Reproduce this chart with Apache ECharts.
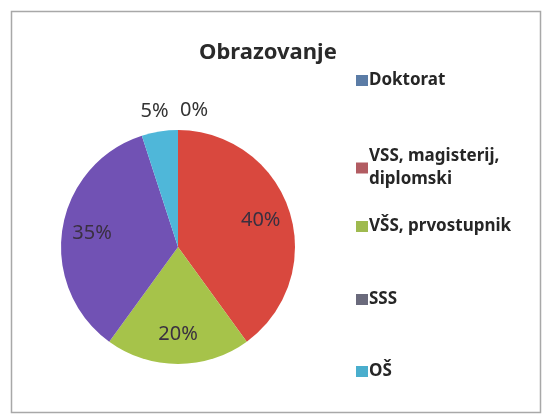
<!DOCTYPE html>
<html lang="hr" style="height: 100%">
<head>
    <meta charset="UTF-8">
    <title>Obrazovanje</title>
    <script type="text/javascript" src="https://cdn.jsdelivr.net/npm/echarts@6/dist/echarts.min.js"></script>
</head>
<body style="height: 100%;margin: 0;background:#fff">

<div id="main" style="width:542px;height:414px"></div>

<script type="text/javascript">
    // podaci
    var categories = ['Doktorat', 'VSS, magisterij,\ndiplomski', 'VŠS, prvostupnik', 'SSS', 'OŠ'];
    var values = [0, 40, 20, 35, 5];
    var sliceColors = ['#4f81bd', '#d9483e', '#a6c34a', '#7152b4', '#4fb7d9'];
    var legendColors = ['#5b7ca6', '#b25c62', '#9fba4f', '#6a6a7c', '#4aaecd'];
    var legendTops = [64, 140, 210, 283, 355];

    var chart = echarts.init(document.getElementById('main'));

    var mainData = [];
    var labelData = [];
    for (var i = 0; i < categories.length; i++) {
        var small = values[i] < 10;
        mainData.push({
            name: categories[i],
            value: values[i],
            itemStyle: {color: sliceColors[i]},
            label: {show: small}
        });
        labelData.push({
            name: categories[i],
            value: values[i],
            label: {show: !small}
        });
    }

    var legends = [];
    for (var j = 0; j < categories.length; j++) {
        legends.push({
            orient: 'vertical',
            left: 351,
            top: legendTops[j],
            itemWidth: 12,
            itemHeight: 11,
            itemGap: 0,
            icon: 'rect',
            selectedMode: false,
            data: [{name: categories[j], itemStyle: {color: legendColors[j]}}],
            textStyle: {
                fontFamily: 'Noto Sans',
                fontSize: 17,
                fontWeight: 'bold',
                color: '#262626',
                lineHeight: 23,
                padding: [0, 0, 0, -4]
            }
        });
    }

    var option = {
        backgroundColor: '#ffffff',
        animation: false,
        title: {
            text: 'Obrazovanje',
            left: 194,
            top: 37,
            textStyle: {
                fontFamily: 'Noto Sans',
                fontSize: 22,
                fontWeight: 'bold',
                color: '#2a2a2a'
            }
        },
        legend: legends,
        graphic: [{
            type: 'rect',
            shape: {x: 11.5, y: 11.5, width: 529, height: 401},
            style: {fill: 'none', stroke: '#a8a8a8', lineWidth: 1.5},
            silent: true
        }],
        series: [
            {
                name: 'Obrazovanje',
                type: 'pie',
                center: [178, 247],
                radius: [0, 117],
                startAngle: 90,
                clockwise: true,
                avoidLabelOverlap: false,
                minShowLabelAngle: -1,
                data: mainData,
                label: {
                    position: 'outside',
                    formatter: '{d}%',
                    fontFamily: 'Noto Sans',
                    fontSize: 20,
                    color: '#333333',
                    distanceToLabelLine: 2
                },
                labelLine: {show: false, length: 20, length2: 0},
                labelLayout: function (p) {
                    // 0% desno od vrha, 5% malo bliže sredini
                    if (p.dataIndex === 0) return {align: 'left', dx: 4};
                    if (p.dataIndex === 4) return {dx: 14};
                    return {};
                },
                itemStyle: {borderWidth: 0},
                emphasis: {disabled: true}
            },
            {
                name: 'oznake',
                type: 'pie',
                center: [178, 247],
                radius: [0, 168],
                startAngle: 90,
                clockwise: true,
                silent: true,
                data: labelData,
                itemStyle: {color: 'rgba(0,0,0,0)'},
                label: {
                    position: 'inside',
                    formatter: '{d}%',
                    fontFamily: 'Noto Sans',
                    fontSize: 20,
                    color: '#3a3040'
                },
                emphasis: {disabled: true}
            }
        ]
    };

    chart.setOption(option);
</script>

</body>
</html>
